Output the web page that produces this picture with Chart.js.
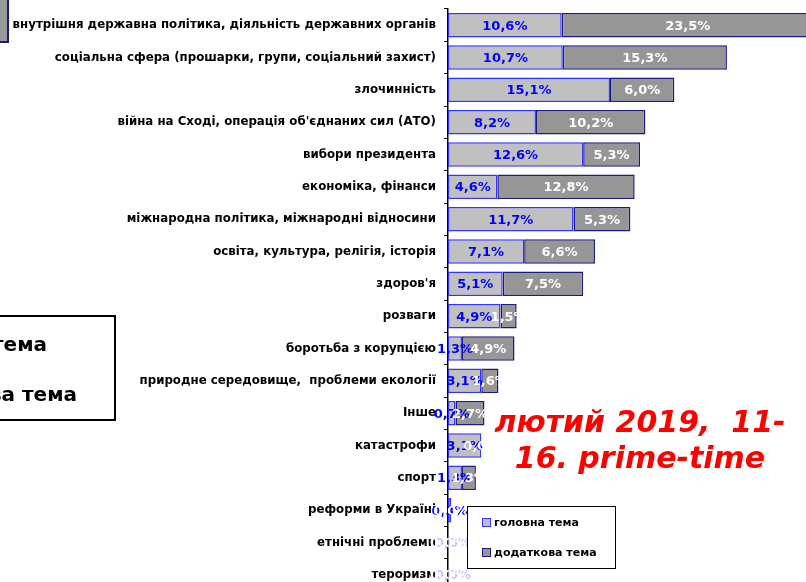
<!DOCTYPE html>
<html>
<head>
<meta charset="utf-8">
<script src="https://cdn.jsdelivr.net/npm/chart.js@4/dist/chart.umd.min.js"></script>
<style>
  html, body { margin: 0; padding: 0; background: #fff; overflow: hidden; }
  #wrap { width: 806px; height: 591px; }
</style>
</head>
<body>
<div id="wrap"><canvas id="chart" width="806" height="591"></canvas></div>
<script>
// Теми новин, лютий 2019
const categories = [
  'внутрішня державна політика, діяльність державних органів',
  'соціальна сфера (прошарки, групи, соціальний захист)',
  'злочинність',
  "війна на Сході, операція об'єднаних сил (АТО)",
  'вибори президента',
  'економіка, фінанси',
  'міжнародна політика, міжнародні відносини',
  'освіта, культура, релігія, історія',
  "здоров'я",
  'розваги',
  'боротьба з корупцією',
  'природне середовище,  проблеми екології',
  'Інше',
  'катастрофи',
  'спорт',
  'реформи в Україні',
  'етнічні проблеми',
  'тероризм'
];
const mainTopic = [10.6, 10.7, 15.1, 8.2, 12.6, 4.6, 11.7, 7.1, 5.1, 4.9, 1.3, 3.1, 0.7, 3.1, 1.3, 0.3, 0.0, 0.0];
const extraTopic = [23.5, 15.3, 6.0, 10.2, 5.3, 12.8, 5.3, 6.6, 7.5, 1.5, 4.9, 1.6, 2.7, 0.0, 1.3, 0.0, 0.0, 0.0];
const seriesNames = ['головна тема', 'додаткова тема'];

const FONT = '"DejaVu Sans", Verdana, sans-serif';

function fmt(v) {
  return v.toFixed(1).replace('.', ',') + '%';
}

// Підписи значень всередині сегментів
const valueLabels = {
  id: 'valueLabels',
  afterDatasetsDraw(chart) {
    const ctx = chart.ctx;
    ctx.save();
    ctx.font = 'bold 13px ' + FONT;
    ctx.textAlign = 'center';
    ctx.textBaseline = 'middle';
    chart.data.datasets.forEach((ds, i) => {
      const meta = chart.getDatasetMeta(i);
      meta.data.forEach((bar, j) => {
        const v = ds.data[j];
        const p = bar.getProps(['x', 'y', 'base'], true);
        let cx = (p.x + p.base) / 2;
        if (i === 0) {
          ctx.fillStyle = v === 0 ? '#c4c4ff' : '#0000ff';
          if (v === 0) cx += 5;
        } else {
          ctx.fillStyle = '#ffffff';
        }
        ctx.fillText(fmt(v), cx, p.y + 1);
      });
    });
    ctx.restore();
  }
};

// Легенда, підпис періоду та обрізані фрагменти
const decorations = {
  id: 'decorations',
  afterDraw(chart) {
    const ctx = chart.ctx;
    ctx.save();

    // фрагмент маркера зверху зліва
    ctx.fillStyle = '#999999';
    ctx.strokeStyle = '#1a1a80';
    ctx.lineWidth = 2;
    ctx.fillRect(-20, -5, 28, 47);
    ctx.strokeRect(-20, -5, 28, 47);

    // обрізана велика легенда зліва
    ctx.fillStyle = '#ffffff';
    ctx.strokeStyle = '#000000';
    ctx.lineWidth = 2;
    ctx.fillRect(-20, 316, 135, 104);
    ctx.strokeRect(-20, 316, 135, 104);
    ctx.fillStyle = '#000000';
    ctx.font = 'bold 20px ' + FONT;
    ctx.textAlign = 'right';
    ctx.textBaseline = 'middle';
    ctx.fillText(seriesNames[0], 47, 346);
    ctx.fillText(seriesNames[1], 77, 396);

    // період
    ctx.fillStyle = '#ff0000';
    ctx.font = 'italic bold 30px ' + FONT;
    ctx.textAlign = 'center';
    ctx.fillText('лютий 2019,  11-', 640, 424);
    ctx.fillText('16. prime-time', 640, 460);

    // легенда
    ctx.fillStyle = '#ffffff';
    ctx.strokeStyle = '#000000';
    ctx.lineWidth = 1;
    ctx.fillRect(467.5, 506.5, 148, 62);
    ctx.strokeRect(467.5, 506.5, 148, 62);
    ctx.font = 'bold 11px ' + FONT;
    ctx.textAlign = 'left';
    const items = [
      { fill: '#c0c0c0', border: '#3333ff', y: 523 },
      { fill: '#969696', border: '#1a1a80', y: 553 }
    ];
    items.forEach((it, k) => {
      ctx.fillStyle = it.fill;
      ctx.strokeStyle = it.border;
      ctx.fillRect(482.5, it.y - 4.5, 8, 8);
      ctx.strokeRect(482.5, it.y - 4.5, 8, 8);
      ctx.fillStyle = '#000000';
      ctx.fillText(seriesNames[k], 494, it.y);
    });
    ctx.restore();
  }
};

new Chart(document.getElementById('chart'), {
  type: 'bar',
  data: {
    labels: categories,
    datasets: [
      {
        label: seriesNames[0],
        data: mainTopic,
        backgroundColor: '#c0c0c0',
        borderColor: '#3333ff',
        borderWidth: 1.5,
        borderSkipped: false,
        barPercentage: 0.76,
        categoryPercentage: 1
      },
      {
        label: seriesNames[1],
        data: extraTopic,
        backgroundColor: '#969696',
        borderColor: '#1a1a80',
        borderWidth: 1.5,
        borderSkipped: false,
        barPercentage: 0.76,
        categoryPercentage: 1
      }
    ]
  },
  options: {
    indexAxis: 'y',
    responsive: false,
    animation: false,
    layout: { padding: { top: 9, right: 0, bottom: 0, left: 0 } },
    plugins: {
      legend: { display: false },
      tooltip: { enabled: false }
    },
    scales: {
      x: {
        stacked: true,
        display: false,
        min: 0,
        max: 33.37
      },
      y: {
        stacked: true,
        afterFit(scale) {
          scale.width = 448;
          scale.paddingTop = 0;
          scale.paddingBottom = 0;
        },
        border: { display: true, color: '#000000', width: 1.5 },
        grid: {
          display: true,
          offset: true,
          drawOnChartArea: false,
          drawTicks: true,
          tickLength: 4,
          color: '#000000'
        },
        ticks: {
          color: '#000000',
          padding: 8,
          autoSkip: false,
          font: { family: FONT, size: 11.8, weight: 'bold' }
        }
      }
    }
  },
  plugins: [valueLabels, decorations]
});
</script>
</body>
</html>
